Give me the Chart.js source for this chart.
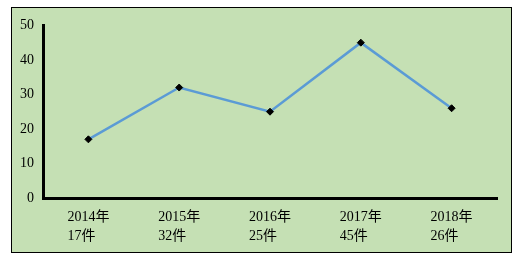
<!DOCTYPE html>
<html>
<head>
<meta charset="utf-8">
<script src="https://cdn.jsdelivr.net/npm/chart.js@4"></script>
<style>
  body { margin: 0; background: #fff; }
  #box {
    position: absolute; left: 11px; top: 7px;
    width: 499px; height: 244px;
    border: 1px solid #000; background: #C5E0B4;
  }
</style>
</head>
<body>
<div id="box"><canvas id="lineChart" width="499" height="244"></canvas></div>
<script>
// 数据
const years = ["2014年", "2015年", "2016年", "2017年", "2018年"];
const counts = [17, 32, 25, 45, 26];
const yTicks = [0, 10, 20, 30, 40, 50];

const labels = years.map((y, i) => [y, counts[i] + "件"]);
const fontFamily = "'Liberation Serif', 'Noto Sans CJK SC', serif";

new Chart(document.getElementById('lineChart').getContext('2d'), {
  type: 'line',
  data: {
    labels: labels,
    datasets: [{
      data: counts,
      borderColor: '#5B9BD5',
      borderWidth: 2.5,
      pointStyle: 'rectRot',
      pointRadius: 3.5,
      pointBackgroundColor: '#000',
      pointBorderColor: '#000',
      pointBorderWidth: 1,
      tension: 0
    }]
  },
  options: {
    responsive: false,
    animation: false,
    layout: { padding: { left: 0, top: 16, right: 14, bottom: 0 } },
    plugins: { legend: { display: false }, tooltip: { enabled: false } },
    scales: {
      x: {
        offset: true,
        grid: { display: false, drawTicks: false },
        border: { display: true, color: '#000', width: 3 },
        ticks: {
          color: '#000', padding: 10, maxRotation: 0,
          align: 'start', labelOffset: -21,
          font: { family: fontFamily, size: 14, lineHeight: 1.35 }
        },
        afterFit: scale => { scale.height = 54; }
      },
      y: {
        min: 0,
        max: 50,
        afterBuildTicks: scale => { scale.ticks = yTicks.map(v => ({ value: v })); },
        grid: { display: false, drawTicks: false },
        border: { display: true, color: '#000', width: 3 },
        ticks: { color: '#000', padding: 9, font: { family: fontFamily, size: 14 } },
        afterFit: scale => { scale.width = 31; }
      }
    }
  }
});
</script>
</body>
</html>
